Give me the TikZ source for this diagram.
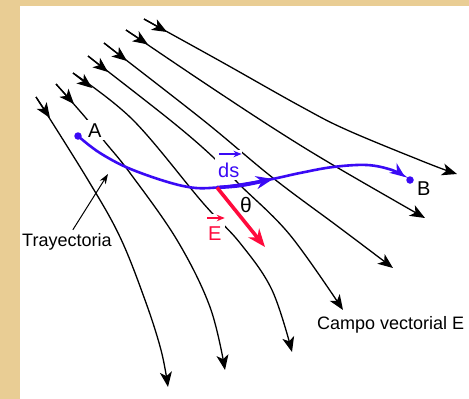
\documentclass[tikz,border=0pt]{standalone}
\usepackage{fontspec}
\setmainfont{Liberation Sans}
\usetikzlibrary{arrows.meta,calc}
\definecolor{papelFondo}{HTML}{E9CD94}
\definecolor{trazoAzul}{HTML}{3A0AF5}
\definecolor{vectorRojo}{HTML}{FF0A3C}

\begin{document}
\begin{tikzpicture}[
  x=1pt, y=-1pt,
  font=\fontsize{18}{21}\selectfont,
  >=Stealth,
  lineaCampo/.style={
    draw=black, line width=1.3pt,
    -{Stealth[length=15pt,width=12pt,inset=4pt]}
  },
  puntaInicio/.style={lineaCampo},
  etiqueta/.style={anchor=base west, fill=white, inner sep=3pt,
    font=\fontsize{20}{23}\selectfont},
  punto/.style={circle, fill=trazoAzul, inner sep=0pt, minimum size=7.5pt},
  trayecto/.style={draw=trazoAzul, line width=2.6pt,
    -{Stealth[length=15pt,width=12pt]}},
  vecDs/.style={draw=trazoAzul, line width=3.6pt,
    -{Stealth[length=17pt,width=13pt]}},
  vecE/.style={draw=vectorRojo, line width=3.6pt,
    -{Stealth[length=18pt,width=14pt]}},
  flechita/.style={line width=1.3pt, -{Stealth[length=8pt,width=6.5pt]}},
  indicador/.style={draw=black, line width=1pt, -{Stealth[length=10pt,width=7pt]}}
]

  % fondo y panel
  \useasboundingbox (0,0) rectangle (469,399);
  \fill[papelFondo] (0,0) rectangle (469,399);
  \fill[white] (20,6) rectangle (469,399);

  % lineas del campo E
  \draw[lineaCampo] plot[smooth, tension=0.6] coordinates
    {(144,19) (220,61) (300,106) (347,130) (427,163) (457,174)};
  \draw[lineaCampo] plot[smooth, tension=0.6] coordinates
    {(126,30) (200,80) (273,128) (333,165) (425,218)};
  \draw[lineaCampo] plot[smooth, tension=0.6] coordinates
    {(104,43) (203,120) (273,178) (340,228) (393,268)};
  \draw[lineaCampo] plot[smooth, tension=0.6] coordinates
    {(88,56) (170,120) (213,157) (240,185) (290,235) (343,310)};
  \draw[lineaCampo] plot[smooth, tension=0.6] coordinates
    {(73,73) (133,120) (203,203) (240,243) (272,290) (292,352)};
  \draw[lineaCampo] plot[smooth, tension=0.6] coordinates
    {(56,84) (85,117) (105,142) (130,173) (177,240) (210,307) (225,370)};
  \draw[lineaCampo] plot[smooth, tension=0.6] coordinates
    {(36,97) (88,180) (120,237) (145,300) (161,350) (168,387)};

  % puntas al inicio de cada linea
  \foreach \xa/\ya/\xb/\yb in {144/19/167/32, 126/30/148/44.5, 104/43/127/61,
                               88/56/108/72, 73/73/92/88, 56/84/74/104, 36/97/50/118}
    \draw[puntaInicio] (\xa,\ya) -- (\xb,\yb);

  % etiquetas
  \node[etiqueta] (labA) at (85,137) {A};
  \node[etiqueta] (labB) at (414,195) {B};
  \node[etiqueta, text=trazoAzul, text height=24pt] (labDs) at (215,177) {ds};
  \node[etiqueta, text=vectorRojo, text height=23pt] (labE) at (205,240) {E};
  \node[font=\fontsize{21}{24}\selectfont] (theta) at (246,205) {θ};
  \node[anchor=base west, inner sep=3pt] (tray) at (19,246) {Trayectoria};
  \node[anchor=base west, inner sep=3pt] (campo) at (314,329) {Campo vectorial E};

  % flechas sobre ds y E
  \draw[flechita, trazoAzul] ($(labDs.base west)+(4,-23)$) -- ($(labDs.base east)+(-1,-23)$);
  \draw[flechita, vectorRojo] ($(labE.base west)+(2,-22)$) -- ($(labE.base east)+(0,-22)$);

  % indicador de la trayectoria
  \coordinate (trayPunta) at (108,174);
  \draw[indicador] ([xshift=6pt]tray.north) -- (trayPunta);

  % trayectoria de A a B
  \node[punto] (A) at (78,136) {};
  \node[punto] (B) at (410,180) {};
  \coordinate (P) at (217,187.5);
  \draw[trayecto] plot[smooth, tension=0.6] coordinates
    {(A.center) (100,153) (133,170) (183,186) (P) (267,180) (300,173)
     (333,167) (367,165) (392,170) (405,177)};

  % vectores ds y E
  \draw[vecDs] (P) .. controls (240,186) .. (273,179);
  \draw[vecE] (P) -- (265,247);

\end{tikzpicture}
\end{document}
